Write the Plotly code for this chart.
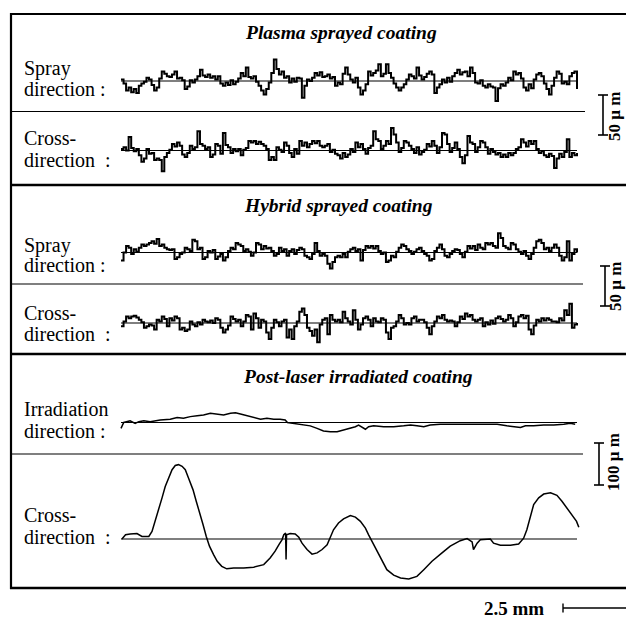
import numpy as np
import plotly.graph_objects as go

W, H = 626, 618

# ---------------- data (heights in micrometres, positions in mm) ----------------
profile_length_mm = 10.0

plasma_spray = [2, -3, -12, -8, -14, -10, -15, -6, -3, -1,
                4, 2, -5, -12, -8, 3, 12, 9, 6, 5,
                8, 12, 3, 4, 1, -10, -7, 1, -2, 2,
                6, 14, 7, 5, 8, 4, 6, 2, 6, -3,
                -6, -2, -5, 1, -4, -1, 3, 10, 6, 17,
                5, 3, 6, -1, -6, -12, -17, -10, -2, 10,
                27, 15, 8, 12, 4, 6, -2, 3, -1, 4,
                3, -21, -6, 2, 0, 4, 10, 7, 11, 5,
                6, 8, 3, 5, -6, -2, -4, 9, 17, 8,
                2, -2, 4, -8, -17, -12, -4, 12, 7, 10,
                13, 21, 6, 9, 21, 10, 4, -3, -8, -12,
                -8, -4, 2, 8, 6, 3, 17, 7, 2, 5,
                9, 12, 8, -15, -8, -4, 2, -2, 4, -1,
                6, 10, 14, 8, 11, 12, 6, 17, 10, -2,
                -3, 1, -6, -8, -4, -7, -8, -25, -9, -4,
                -6, -2, 4, 1, 12, 8, 10, 3, -8, -12,
                -4, -9, 2, 8, 10, 6, -3, -10, -17, -6,
                4, 12, 9, -3, -1, -4, 6, 10, 12, -10]

plasma_cross = [2, 4, 0, 17, 3, -1, 2, -6, -14, -10,
                2, -4, -3, -12, -10, -12, -26, -8, -3, 1,
                8, 5, 10, 6, -5, -8, -3, 6, 2, 4,
                24, 8, 6, 2, 4, -8, -5, 8, 6, -4,
                22, 7, 4, -3, 2, -1, 2, -6, 1, 3,
                12, 10, 12, 8, 11, 8, 6, 2, -12, -8,
                -12, 4, 1, -2, 10, 6, -3, -8, 2, -4,
                12, 6, 10, 4, 8, 12, 9, 12, 6, 4,
                6, 8, -2, 1, -4, -6, -10, -3, -8, -5,
                2, -2, 10, 4, 8, 2, -4, 3, 6, 24,
                14, 12, 2, 6, 12, 8, 28, 20, 10, -2,
                3, 12, 10, 6, 2, -3, 4, -5, -2, 1,
                8, 5, 12, 6, -3, 4, 22, 20, 8, -2,
                3, 10, 2, -8, -16, -6, 18, 10, 8, -2,
                4, 12, 10, 4, -4, 2, -2, -5, -3, -8,
                -5, -8, -3, -6, -3, 2, 4, 14, 10, 5,
                12, 8, 12, 2, -3, -1, -6, -8, -4, -7,
                -22, -10, -4, -8, -2, 14, -8, -3, -6, -3]

hybrid_spray = [-10, 0, 8, 6, -2, 4, 1, 6, 10, 8,
                10, 12, 14, 11, 17, 8, 10, 6, 4, 3,
                4, -8, -6, -2, 0, 6, 4, 2, 16, 14,
                4, 6, -8, -6, 2, 0, 3, -8, -5, -2,
                -10, -6, 2, 6, 4, 12, 10, 8, 2, 4,
                1, -4, 0, 12, 10, 4, 8, 5, 6, 2,
                -4, -2, 6, 2, 4, -4, 2, 4, -2, 3,
                6, 4, -4, -6, -8, -2, 12, 2, -4, -2,
                -4, -14, -20, -12, -6, -4, -6, -2, -6, 1,
                4, 6, 2, 4, -10, 3, 8, 6, 8, 5,
                8, 2, -2, 0, -12, -10, -4, -6, 1, 6,
                10, 8, 4, 2, -2, 1, 4, 6, 2, -2,
                -4, -10, -8, 2, 6, 10, 4, -4, -6, -2,
                2, 4, 3, -2, -6, 1, 8, 5, 8, 3,
                10, 6, 4, 12, 10, 12, 8, 6, 24, 18,
                8, 6, 4, 12, 10, 4, 1, -2, 2, -4,
                -8, -2, 6, 14, 16, 12, 4, 6, 2, 6,
                10, 6, -4, -10, -6, 14, -10, -2, 4, 0]

hybrid_cross = [-4, 2, 8, 6, 8, 9, 7, 4, 1, -6,
                -4, -2, -3, -8, 4, 2, 8, 5, -4, 6,
                3, 8, 6, -8, -6, -10, -8, 2, -2, -4,
                1, -2, 4, 2, 1, 3, 0, 6, 4, -6,
                -12, -8, -3, 8, 5, 2, 4, -4, 2, 10,
                8, -8, 12, 6, -6, 4, 2, -12, -20, -6,
                4, 1, -4, 2, 4, -18, -8, -20, -4, 2,
                14, 18, 10, -6, -10, -16, -8, -24, -2, 4,
                6, -14, 10, 4, 2, 4, 1, 14, 6, 2,
                -2, 16, 4, -8, -2, 6, 8, 4, -4, 6,
                2, 1, 6, 4, -12, -20, -6, -4, 2, 10,
                6, -2, 0, -2, 6, 8, 2, 4, 4, 1,
                -6, -14, -4, 2, 8, 6, 10, 4, 2, 3,
                2, -4, 1, 8, 5, 12, 8, 10, 4, 2,
                4, 6, -4, 1, -2, 3, -1, 6, 8, 5,
                2, 4, 10, 6, -4, 1, 8, 10, 6, 9,
                -8, -14, -3, 4, 2, 6, 3, 6, 4, 2,
                2, 1, 6, 3, 16, 10, 24, -6, -2, 0]

laser_irr_x = [0.00, 0.06, 0.20, 0.31, 0.39, 0.50, 0.64, 0.86, 1.08, 1.23,
               1.37, 1.52, 1.67, 1.81, 1.96, 2.11, 2.25, 2.40, 2.51, 2.62,
               2.76, 2.91, 3.06, 3.20, 3.35, 3.49, 3.60, 3.65, 3.79, 4.01,
               4.15, 4.30, 4.44, 4.59, 4.74, 4.88, 5.03, 5.14, 5.21, 5.29,
               5.36, 5.43, 5.54, 5.76, 5.98, 6.20, 6.35, 6.49, 6.64, 6.78,
               7.00, 7.22, 7.66, 8.25, 8.46, 8.61, 8.76, 8.87, 9.05, 9.27,
               9.49, 9.71, 9.85, 9.96]
laser_irr_y = [-14, 0, 4, -2, 2, 4, 2, 6, 8, 12,
               10, 14, 16, 18, 22, 20, 18, 22, 23, 20,
               16, 12, 8, 10, 8, 8, 6, 0, -2, -6,
               -8, -14, -20, -22, -22, -18, -14, -10, -6, -12,
               -16, -10, -8, -10, -10, -8, -6, -8, -10, -6,
               -4, -4, -4, -4, -8, -10, -12, -8, -8, -6,
               -6, -4, -2, -4]

laser_cross_x = [0.02, 0.10, 0.20, 0.35, 0.46, 0.61, 0.68, 0.75, 0.83, 0.90,
                 0.97, 1.05, 1.12, 1.19, 1.26, 1.34, 1.41, 1.48, 1.58, 1.65,
                 1.73, 1.80, 1.87, 1.94, 2.03, 2.11, 2.21, 2.32, 2.47, 2.69,
                 2.91, 3.13, 3.27, 3.38, 3.47, 3.53, 3.57, 3.61, 3.62, 3.63,
                 3.71, 3.82, 3.90, 3.97, 4.08, 4.19, 4.30, 4.41, 4.52, 4.59,
                 4.66, 4.77, 4.88, 5.03, 5.14, 5.25, 5.36, 5.43, 5.50, 5.61,
                 5.72, 5.83, 5.98, 6.13, 6.31, 6.49, 6.64, 6.82, 7.04, 7.22,
                 7.44, 7.59, 7.70, 7.73, 7.81, 7.88, 8.10, 8.17, 8.32, 8.54,
                 8.72, 8.83, 8.90, 8.98, 9.05, 9.16, 9.27, 9.42, 9.56, 9.67,
                 9.78, 9.89, 9.99, 10.04]
laser_cross_y = [0, 10, 12, 13, 6, 6, 18, 42, 74, 98,
                 125, 149, 165, 175, 177, 173, 165, 145, 117, 90,
                 62, 34, 6, -17, -37, -53, -65, -71, -69, -69,
                 -67, -61, -45, -29, -12, -2, 10, 14, -49, 10,
                 13, 12, 4, -10, -25, -36, -33, -25, -14, 2,
                 22, 38, 48, 56, 52, 42, 26, 10, -5, -29,
                 -53, -73, -86, -93, -95, -89, -73, -53, -33, -17,
                 -4, 1, -7, -25, -10, -2, 0, -10, -15, -15,
                 -12, 2, 22, 58, 82, 98, 107, 110, 104, 90,
                 74, 58, 42, 28]

section_titles = ["Plasma sprayed coating", "Hybrid sprayed coating",
                  "Post-laser irradiated coating"]
row_labels = [("Spray", "direction :"), ("Cross-", "direction  :"),
              ("Spray", "direction :"), ("Cross-", "direction  :"),
              ("Irradiation", "direction :"), ("Cross-", "direction  :")]
scale_labels = ["50 μ m", "50 μ m", "100 μ m"]
scale_values_um = [50, 50, 100]
length_label = "2.5 mm"
length_value_mm = 2.5

# ---------------- layout geometry (pixels) ----------------
def pxx(x):
    return x / W

def pxy(y):
    return 1 - y / H

x0_px, px_per_mm = 121.0, 45.6
fine_scale = 40.0 / 50.0      # px per micrometre (plasma / hybrid)
coarse_scale = 42.0 / 100.0   # px per micrometre (laser)
baselines = [81, 150.5, 252.5, 323, 422.5, 539]
scales = [fine_scale, fine_scale, fine_scale, fine_scale, coarse_scale, coarse_scale]

FONT = "Liberation Serif, Times New Roman, serif"

fig = go.Figure()

noisy = [plasma_spray, plasma_cross, hybrid_spray, hybrid_cross]
for k, vals in enumerate(noisy):
    xs = np.linspace(0, profile_length_mm, len(vals))
    fig.add_trace(go.Scatter(x=xs, y=vals, mode="lines", line_shape="hv",
                             line=dict(color="black", width=2.0),
                             xaxis="x", yaxis="y" if k == 0 else f"y{k+1}",
                             hoverinfo="skip", showlegend=False))

fig.add_trace(go.Scatter(x=laser_irr_x, y=laser_irr_y, mode="lines",
                         line=dict(color="black", width=1.5),
                         xaxis="x", yaxis="y5", hoverinfo="skip", showlegend=False))
fig.add_trace(go.Scatter(x=laser_cross_x, y=laser_cross_y, mode="lines",
                         line=dict(color="black", width=1.5),
                         xaxis="x", yaxis="y6", hoverinfo="skip", showlegend=False))

# axes
layout_axes = {}
layout_axes["xaxis"] = dict(domain=[0, 1], range=[-x0_px / px_per_mm, (W - x0_px) / px_per_mm],
                            visible=False, fixedrange=True)
for k in range(6):
    b, s = baselines[k], scales[k]
    ax = dict(domain=[0, 1], range=[-(H - b) / s, b / s], visible=False, fixedrange=True)
    name = "yaxis" if k == 0 else f"yaxis{k+1}"
    if k > 0:
        ax["overlaying"] = "y"
    layout_axes[name] = ax

shapes = []
# reference (mean) lines for each profile
for k in range(6):
    yref = "y" if k == 0 else f"y{k+1}"
    shapes.append(dict(type="line", xref="x", yref=yref, x0=0, x1=profile_length_mm,
                       y0=0, y1=0, line=dict(color="black", width=1.2)))

# frame
def hline(y, x0, x1, w):
    shapes.append(dict(type="line", xref="paper", yref="paper", x0=pxx(x0), x1=pxx(x1),
                       y0=pxy(y), y1=pxy(y), line=dict(color="black", width=w)))

def vline(x, y0, y1, w):
    shapes.append(dict(type="line", xref="paper", yref="paper", x0=pxx(x), x1=pxx(x),
                       y0=pxy(y0), y1=pxy(y1), line=dict(color="black", width=w)))

vline(11, 13, 589, 2.2)
hline(14, 10, 626, 2.2)
hline(185, 10, 626, 2.5)
hline(354, 10, 626, 2.5)
hline(588, 10, 626, 2.5)
hline(111.5, 11, 585, 1.2)
hline(284, 11, 583, 1.2)
hline(454, 11, 583, 1.2)

# vertical scale bars (drawn with the profile axes)
bar_specs = [(603, 135, 0), (605, 306, 2), (599, 485, 4)]
for (bx, ybot, axk), val in zip(bar_specs, scale_values_um):
    yref = "y" if axk == 0 else f"y{axk+1}"
    b, s = baselines[axk], scales[axk]
    v0 = (b - ybot) / s
    v1 = v0 + val
    shapes.append(dict(type="line", xref="paper", yref=yref, x0=pxx(bx), x1=pxx(bx),
                       y0=v0, y1=v1, line=dict(color="black", width=1.6)))
    for v in (v0, v1):
        shapes.append(dict(type="line", xref="paper", yref=yref, x0=pxx(bx - 5), x1=pxx(bx + 5),
                           y0=v, y1=v, line=dict(color="black", width=1.6)))

# horizontal length bar (in mm on the x axis)
lx0 = (563 - x0_px) / px_per_mm
shapes.append(dict(type="line", xref="x", yref="paper", x0=lx0, x1=lx0 + length_value_mm,
                   y0=pxy(608), y1=pxy(608), line=dict(color="black", width=1.4)))
shapes.append(dict(type="line", xref="x", yref="paper", x0=lx0, x1=lx0,
                   y0=pxy(603.5), y1=pxy(612.5), line=dict(color="black", width=1.4)))

annotations = []
title_pos = [(341, 32), (338, 206), (358, 376)]
for t, (tx, ty) in zip(section_titles, title_pos):
    annotations.append(dict(text=f"<b><i>{t}</i></b>", x=pxx(tx), y=pxy(ty), xref="paper",
                            yref="paper", showarrow=False, xanchor="center", yanchor="middle",
                            font=dict(family=FONT, size=19.5, color="black")))

label_pos = [(68, 89), (138, 160), (245, 265), (313, 334), (409, 431), (515, 537)]
for (l1, l2), (y1, y2) in zip(row_labels, label_pos):
    for txt, yy in ((l1, y1), (l2, y2)):
        annotations.append(dict(text=txt, x=pxx(22), y=pxy(yy), xref="paper", yref="paper",
                                showarrow=False, xanchor="left", yanchor="middle",
                                font=dict(family=FONT, size=20, color="black")))

scale_text_pos = [(614, 117), (615, 287), (613, 462)]
for txt, (sx, sy) in zip(scale_labels, scale_text_pos):
    annotations.append(dict(text=f"<b>{txt}</b>", x=pxx(sx), y=pxy(sy), xref="paper",
                            yref="paper", showarrow=False, xanchor="center", yanchor="middle",
                            textangle=-90, borderpad=0,
                            font=dict(family=FONT, size=17, color="black")))

annotations.append(dict(text=f"<b>{length_label}</b>", x=pxx(514), y=pxy(608), xref="paper",
                        yref="paper", showarrow=False, xanchor="center", yanchor="middle",
                        font=dict(family=FONT, size=19, color="black")))

fig.update_layout(width=W, height=H, margin=dict(l=0, r=0, t=0, b=0, pad=0),
                  paper_bgcolor="white", plot_bgcolor="white",
                  shapes=shapes, annotations=annotations, showlegend=False,
                  **layout_axes)

fig.write_html("out.html", config={"displayModeBar": False})
